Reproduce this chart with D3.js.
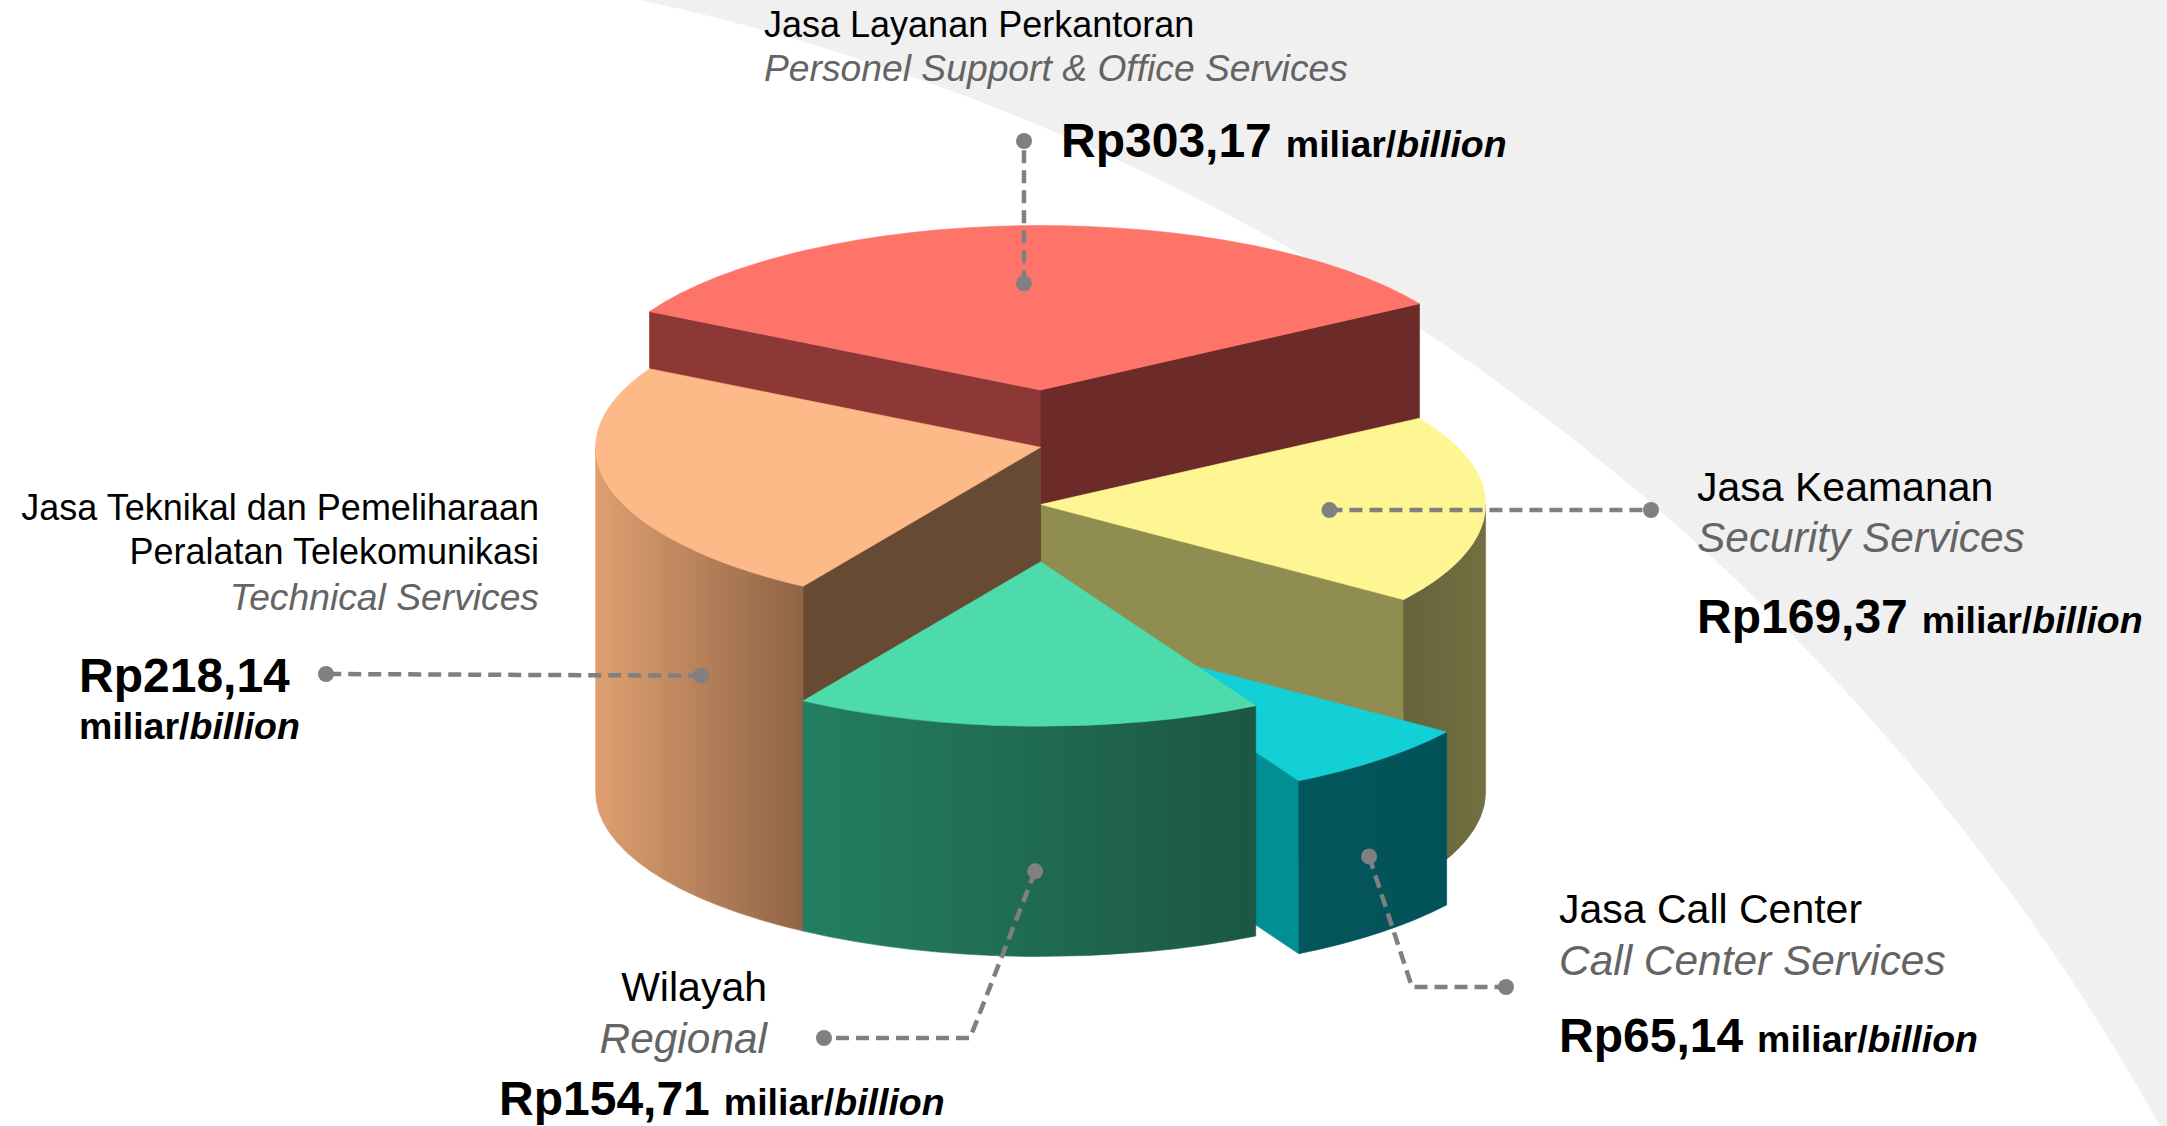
<!DOCTYPE html>
<html>
<head>
<meta charset="utf-8">
<script src="https://cdn.jsdelivr.net/npm/d3@7"></script>
<style>
  html, body { margin: 0; padding: 0; background: #fff; }
  svg { display: block; font-family: "Liberation Sans", Arial, sans-serif; }
</style>
</head>
<body>
<svg id="chart" width="2167" height="1126"></svg>
<script>
// ---- data ----
const categories = [
  ["Jasa Layanan Perkantoran"],
  ["Jasa Keamanan"],
  ["Jasa Call Center"],
  ["Wilayah"],
  ["Jasa Teknikal dan Pemeliharaan", "Peralatan Telekomunikasi"]
];
const englishNames = ["Personel Support & Office Services", "Security Services", "Call Center Services", "Regional", "Technical Services"];
const values = [303.17, 169.37, 65.14, 154.71, 218.14];
const unitText = ["miliar/", "billion"];

// ---- styles ----
const topColors = ["#ff7469", "#fdf692", "#13d0d6", "#4ddbab", "#fdb988"];
const startSideColors = ["#8e3836", "#8f8d50", "#008f94", "#1f6b52", "#674a33"];
const endSideColors = ["#6c2a29", "#8f8d50", "#008f94", "#1f6b52", "#674a33"];
const outerColors = [["#8e3836", "#6c2a29"], ["#66633a", "#726f42"], ["#03565c", "#025259"], ["#237f61", "#1c5644"], ["#df9f70", "#8f6446"]];
const explode = [0, 0, 0.145, 0, 0];

const W = 2167, H = 1126;
const cx = 1040.6, cy = 792, rx = 445, ry = 164.5;
const startAngle = -61.5 * Math.PI / 180;

const svg = d3.select("#chart");

// background: grey with a big white disc
svg.append("rect").attr("width", W).attr("height", H).attr("fill", "#f0f0f0");
svg.append("circle").attr("cx", 154).attr("cy", 2245).attr("r", 2297).attr("fill", "#fff");

const defs = svg.append("defs");
const gPie = svg.append("g");
const gLead = svg.append("g");
const gText = svg.append("g");

// height by rank (biggest slice is tallest)
const hScale = d3.scaleLinear().domain([0, values.length - 1]).range([402, 173]);
const rankOf = values.map(v => values.filter(w => w > v).length);

const pie = d3.pie().sort(null).value(d => d)
  .startAngle(startAngle).endAngle(startAngle + 2 * Math.PI);
const arcs = pie(values);

function proj(a, r, z, off) {
  return [cx + off[0] + rx * r * Math.sin(a), cy + off[1] - z - ry * r * Math.cos(a)];
}
function topPath(a0, a1, h, off) {
  const c = proj(0, 0, h, off), p0 = proj(a0, 1, h, off), p1 = proj(a1, 1, h, off);
  const large = (a1 - a0) > Math.PI ? 1 : 0;
  return `M${c}L${p0}A${rx},${ry} 0 ${large} 1 ${p1}Z`;
}
function outerPath(b0, b1, h, off) {
  const t0 = proj(b0, 1, h, off), t1 = proj(b1, 1, h, off);
  const u1 = proj(b1, 1, 0, off), u0 = proj(b0, 1, 0, off);
  return `M${t0}A${rx},${ry} 0 0 1 ${t1}L${u1}A${rx},${ry} 0 0 0 ${u0}Z`;
}
function sidePath(a, h, off) {
  return `M${proj(a, 0, h, off)}L${proj(a, 1, h, off)}L${proj(a, 1, 0, off)}L${proj(a, 0, 0, off)}Z`;
}

const slices = arcs.map((d, i) => {
  const mid = (d.startAngle + d.endAngle) / 2;
  const e = explode[i];
  return {
    i, a0: d.startAngle, a1: d.endAngle, mid,
    h: hScale(rankOf[i]),
    off: [rx * e * Math.sin(mid), -ry * e * Math.cos(mid)]
  };
});

// back to front
slices.slice().sort((p, q) => Math.cos(q.mid) - Math.cos(p.mid)).forEach(s => {
  const g = gPie.append("g");
  // radial faces that look at the viewer
  if (Math.sin(s.a0) < 0) {
    g.append("path").attr("d", sidePath(s.a0, s.h, s.off))
      .attr("fill", startSideColors[s.i]).attr("stroke", startSideColors[s.i]).attr("stroke-width", 0.6);
  }
  if (Math.sin(s.a1) > 0) {
    g.append("path").attr("d", sidePath(s.a1, s.h, s.off))
      .attr("fill", endSideColors[s.i]).attr("stroke", endSideColors[s.i]).attr("stroke-width", 0.6);
  }
  // curved outer wall, front half only
  const TAU = 2 * Math.PI;
  let st = ((s.a0 % TAU) + TAU) % TAU, en = st + (s.a1 - s.a0);
  [0, 1].forEach(k => {
    const lo = Math.max(st, Math.PI / 2 + k * TAU), hi = Math.min(en, 1.5 * Math.PI + k * TAU);
    if (hi > lo) {
      const id = `outer${s.i}_${k}`;
      const xl = proj(hi, 1, 0, s.off)[0], xr = proj(lo, 1, 0, s.off)[0];
      const lg = defs.append("linearGradient").attr("id", id)
        .attr("gradientUnits", "userSpaceOnUse")
        .attr("x1", xl).attr("x2", xr).attr("y1", 0).attr("y2", 0);
      lg.append("stop").attr("offset", 0).attr("stop-color", outerColors[s.i][0]);
      lg.append("stop").attr("offset", 1).attr("stop-color", outerColors[s.i][1]);
      g.append("path").attr("d", outerPath(lo, hi, s.h, s.off))
        .attr("fill", `url(#${id})`).attr("stroke", `url(#${id})`).attr("stroke-width", 0.6);
    }
  });
  g.append("path").attr("d", topPath(s.a0, s.a1, s.h, s.off))
    .attr("fill", topColors[s.i]).attr("stroke", topColors[s.i]).attr("stroke-width", 0.6);
});

// ---- labels ----
const fmt = d3.formatLocale({decimal: ",", thousands: ".", grouping: [3], currency: ["Rp", ""]}).format("$.2f");
const deg = Math.PI / 180;

const labelLayout = [
  {x: 764, anchor: "start", size: 36, names: [37], eng: 81, vx: 1061, vy: 157, inline: true,
   pt: {a: -3.3, r: 0.65, hf: 1}, leader: [[1024, 141]]},
  {x: 1697, anchor: "start", size: 41, names: [501], eng: 552, vx: 1697, vy: 633, inline: true,
   pt: {a: 93, r: 0.65, hf: 1}, leader: [[1651, 510]]},
  {x: 1559, anchor: "start", size: 41, names: [923], eng: 975, vx: 1559, vy: 1052, inline: true,
   pt: {a: 140.1, r: 1, hf: 0.46}, leader: [[1412, 987], [1506, 987]]},
  {x: 767, anchor: "end", size: 41, names: [1001], eng: 1053, vx: 499, vy: 1115, inline: true,
   pt: {a: 180.7, r: 1, hf: 0.37}, leader: [[970, 1038], [824, 1038]]},
  {x: 539, anchor: "end", size: 36, names: [520, 564], eng: 610, vx: 79, vy: 692, inline: false, uy: 739,
   pt: {a: 229.7, r: 1, hf: 0.646}, leader: [[326, 674]]}
];

labelLayout.forEach((L, i) => {
  const s = slices[i];
  const p0 = proj(L.pt.a * deg, L.pt.r, s.h * L.pt.hf, s.off);
  const pts = [p0].concat(L.leader);
  gLead.append("path").attr("d", d3.line()(pts))
    .attr("fill", "none").attr("stroke", "#808080").attr("stroke-width", 4.5)
    .attr("stroke-dasharray", "13,7");
  [p0, pts[pts.length - 1]].forEach(p => {
    gLead.append("circle").attr("cx", p[0]).attr("cy", p[1]).attr("r", 8).attr("fill", "#808080");
  });

  categories[i].forEach((line, k) => {
    gText.append("text").attr("x", L.x).attr("y", L.names[k])
      .attr("text-anchor", L.anchor).attr("font-size", L.size).attr("fill", "#000")
      .text(line);
  });
  gText.append("text").attr("x", L.x).attr("y", L.eng)
    .attr("text-anchor", L.anchor).attr("font-size", L.size * 1.035).attr("font-style", "italic")
    .attr("fill", "#646464").text(englishNames[i]);

  const vt = gText.append("text").attr("x", L.vx).attr("y", L.vy)
    .attr("font-weight", "bold").attr("fill", "#000");
  vt.append("tspan").attr("font-size", 48).text(fmt(values[i]));
  if (L.inline) {
    vt.append("tspan").attr("dx", 14).attr("font-size", 37.5).text(unitText[0]);
    vt.append("tspan").attr("font-size", 37.5).attr("font-style", "italic").text(unitText[1]);
  } else {
    const ut = gText.append("text").attr("x", L.vx).attr("y", L.uy)
      .attr("font-weight", "bold").attr("fill", "#000").attr("font-size", 37.5);
    ut.append("tspan").text(unitText[0]);
    ut.append("tspan").attr("font-style", "italic").text(unitText[1]);
  }
});
</script>
</body>
</html>
